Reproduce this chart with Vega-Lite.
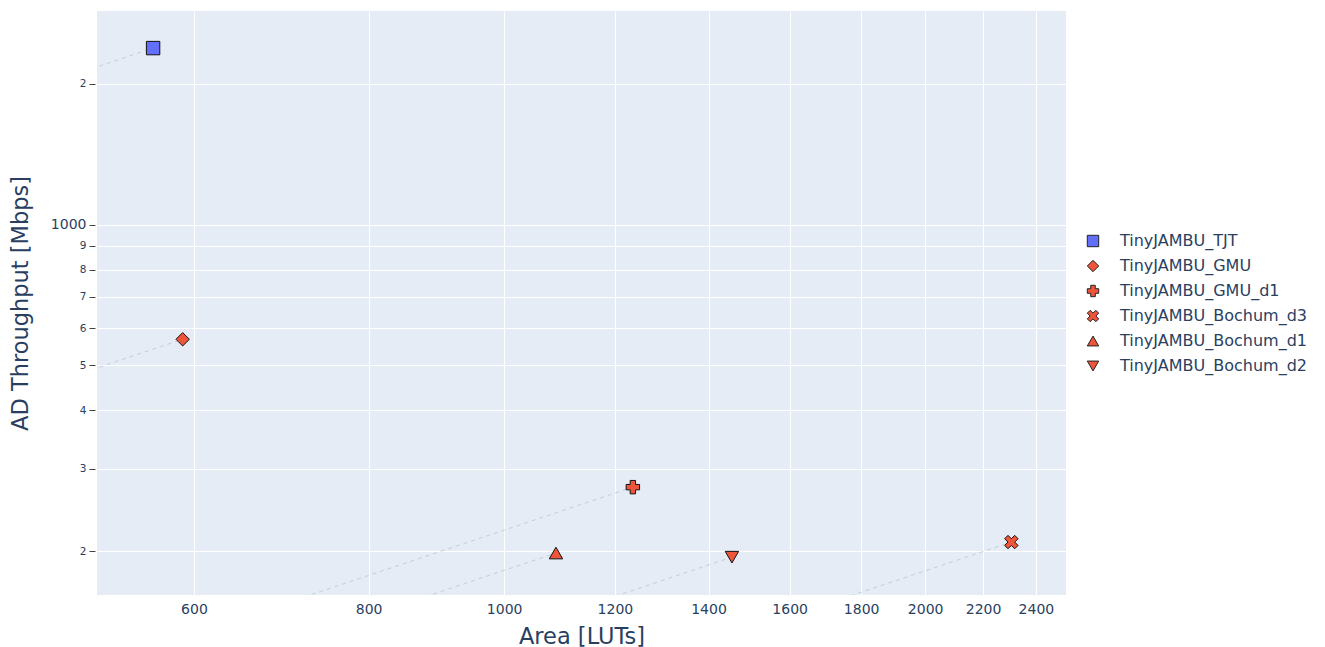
{
  "$schema": "https://vega.github.io/schema/vega-lite/v6.json",
  "width": 969,
  "height": 584,
  "autosize": {"type": "none"},
  "padding": {"left": 97, "top": 11, "right": 259, "bottom": 52},
  "background": "white",
  "config": {
    "view": {"fill": "#E5ECF6", "stroke": null},
    "font": "DejaVu Sans",
    "axis": {"domain": false, "gridColor": "white", "gridWidth": 1, "labelColor": "#2a3f5f", "titleColor": "#2a3f5f", "titleFontWeight": "normal", "labelFont": "DejaVu Sans", "titleFont": "DejaVu Sans"},
    "legend": {"labelColor": "#2a3f5f", "labelFont": "DejaVu Sans"}
  },
  "data": {
    "values": [
      {"name": "TinyJAMBU_TJT", "area": 561, "tp": 2387, "x0": 300, "y0": 1276.5},
      {"name": "TinyJAMBU_GMU", "area": 589, "tp": 568, "x0": 300, "y0": 289.3},
      {"name": "TinyJAMBU_GMU_d1", "area": 1236, "tp": 274, "x0": 300, "y0": 66.5},
      {"name": "TinyJAMBU_Bochum_d3", "area": 2305, "tp": 209, "x0": 300, "y0": 27.2},
      {"name": "TinyJAMBU_Bochum_d1", "area": 1089, "tp": 198, "x0": 300, "y0": 54.5},
      {"name": "TinyJAMBU_Bochum_d2", "area": 1455, "tp": 194, "x0": 300, "y0": 40.0}
    ]
  },
  "layer": [
    {
      "mark": {"type": "rule", "clip": true, "color": "#c6ccd8", "strokeWidth": 1, "strokeDash": [4, 4]},
      "encoding": {
        "x": {"field": "x0", "type": "quantitative", "scale": {"type": "log", "domain": [511.5, 2522], "nice": false, "zero": false}},
        "x2": {"field": "area"},
        "y": {"field": "y0", "type": "quantitative", "scale": {"type": "log", "domain": [161, 2866], "nice": false, "zero": false}},
        "y2": {"field": "tp"}
      }
    },
    {
      "mark": {"type": "point", "filled": true, "opacity": 1, "stroke": "#111", "strokeWidth": 1, "size": 180},
      "encoding": {
        "x": {
          "field": "area", "type": "quantitative",
          "scale": {"type": "log", "domain": [511.5, 2522], "nice": false, "zero": false},
          "axis": {"values": [600, 800, 1000, 1200, 1400, 1600, 1800, 2000, 2200, 2400], "ticks": false, "labelPadding": 7, "labelFontSize": 14, "format": "d", "title": "Area [LUTs]", "titleFontSize": 22.5, "titlePadding": 9, "grid": true}
        },
        "y": {
          "field": "tp", "type": "quantitative",
          "scale": {"type": "log", "domain": [161, 2866], "nice": false, "zero": false},
          "axis": {
            "values": [200, 300, 400, 500, 600, 700, 800, 900, 1000, 2000],
            "labelExpr": "datum.value == 1000 ? '1000\u2002' : (datum.value == 2000 ? '2' : format(datum.value / 100, 'd'))",
            "labelFontSize": {"condition": {"test": "datum.value == 1000", "value": 14}, "value": 10.5},
            "ticks": true, "tickSize": 6, "tickColor": "#444", "tickWidth": 1, "offset": 2, "labelPadding": 3,
            "title": "AD Throughput [Mbps]", "titleFontSize": 22.5, "titlePadding": 18, "grid": true
          }
        },
        "color": {
          "field": "name", "type": "nominal",
          "scale": {"domain": ["TinyJAMBU_TJT", "TinyJAMBU_GMU", "TinyJAMBU_GMU_d1", "TinyJAMBU_Bochum_d3", "TinyJAMBU_Bochum_d1", "TinyJAMBU_Bochum_d2"], "range": ["#636efa", "#EF553B", "#EF553B", "#EF553B", "#EF553B", "#EF553B"]},
          "legend": {"title": null, "orient": "none", "legendX": 988, "legendY": 222, "labelFontSize": 16, "labelLimit": 400, "symbolSize": 130, "symbolStrokeColor": "#222", "symbolStrokeWidth": 1, "labelOffset": 19, "rowPadding": 9, "padding": 0, "symbolOpacity": 1,
            "encode": {"symbols": {"update": {"stroke": {"value": "#222"}, "strokeWidth": {"value": 1}}}}}
        },
        "shape": {
          "field": "name", "type": "nominal",
          "scale": {"domain": ["TinyJAMBU_TJT", "TinyJAMBU_GMU", "TinyJAMBU_GMU_d1", "TinyJAMBU_Bochum_d3", "TinyJAMBU_Bochum_d1", "TinyJAMBU_Bochum_d2"], "range": ["square", "diamond", "cross", "M-1,-0.5 L-0.5,-1 L0,-0.5 L0.5,-1 L1,-0.5 L0.5,0 L1,0.5 L0.5,1 L0,0.5 L-0.5,1 L-1,0.5 L-0.5,0 Z", "triangle-up", "triangle-down"]},
          "legend": {"title": null, "orient": "none", "legendX": 988, "legendY": 222, "labelFontSize": 16, "labelLimit": 400, "symbolSize": 130, "symbolStrokeColor": "#222", "symbolStrokeWidth": 1, "labelOffset": 19, "rowPadding": 9, "padding": 0, "symbolOpacity": 1,
            "encode": {"symbols": {"update": {"stroke": {"value": "#222"}, "strokeWidth": {"value": 1}}}}}
        }
      }
    }
  ]
}
